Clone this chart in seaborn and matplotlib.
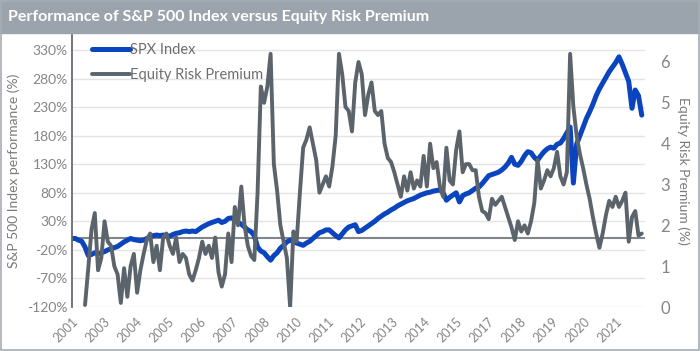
import numpy as np
import pandas as pd
import matplotlib
matplotlib.use("Agg")
import matplotlib.pyplot as plt
import seaborn as sns
from matplotlib.patches import Rectangle

# S&P 500 cumulative performance (%), one value per sample point
spx = [0, 0, -3, -5, -15, -30, -28, -25, -27, -25,
       -23, -20, -18, -16, -14, -10, -6, -3, 0, -2,
       -3, -4, -3, 0, 3, 5, 6, 5, 6, 5,
       4, 7, 9, 10, 12, 13, 12, 13, 12, 16,
       20, 23, 26, 28, 30, 32, 28, 30, 35, 36,
       33, 28, 25, 20, 15, 12, 5, -15, -22, -25,
       -32, -38, -30, -25, -17, -12, -6, -3, -5, -8,
       -10, -12, -8, -5, 0, 5, 10, 12, 15, 15,
       10, 5, 1, 8, 15, 20, 22, 24, 12, 14,
       18, 22, 26, 30, 35, 39, 43, 46, 50, 53,
       57, 60, 63, 66, 68, 70, 73, 76, 78, 80,
       81, 83, 84, 85, 80, 67, 72, 76, 80, 64,
       75, 78, 80, 84, 88, 90, 96, 103, 110, 112,
       114, 116, 120, 125, 132, 142, 130, 128, 135, 145,
       152, 150, 142, 137, 145, 152, 157, 160, 158, 165,
       167, 175, 185, 195, 97, 165, 180, 195, 210, 222,
       235, 250, 262, 272, 282, 292, 300, 308, 318, 305,
       290, 275, 228, 260, 250, 216]

# Equity risk premium (%), no data for the first few points
erp = [np.nan, np.nan, np.nan, np.nan, 0.05, 0.95, 1.9, 2.3, 0.9, 1.2,
       2.1, 1.6, 1.5, 1.0, 0.8, 0.1, 0.95, 0.25, 1.0, 1.3,
       0.35, 0.9, 1.3, 1.65, 1.8, 1.1, 1.5, 0.9, 1.7, 1.8,
       1.5, 1.3, 1.7, 1.1, 1.3, 1.2, 0.8, 0.65, 0.9, 1.2,
       1.6, 1.3, 1.5, 1.2, 1.7, 0.85, 0.5, 0.8, 1.8, 1.1,
       2.45, 2.0, 2.95, 2.0, 1.5, 1.25, 1.15, 2.8, 5.4, 5.0,
       5.4, 6.2, 3.5, 2.85, 2.0, 1.6, 1.2, 0.0, 1.85, 1.6,
       2.8, 3.9, 4.1, 4.4, 4.0, 3.6, 2.8, 3.0, 3.2, 2.95,
       3.45, 4.2, 6.2, 5.7, 4.9, 4.8, 4.3, 5.5, 6.0, 5.7,
       4.7, 5.2, 5.5, 4.8, 4.7, 4.8, 4.0, 3.65, 3.55, 3.3,
       3.0, 2.7, 3.2, 2.85, 3.3, 2.9, 3.1, 2.95, 3.7, 2.95,
       4.0, 3.4, 3.55, 2.95, 2.7, 3.9, 3.1, 3.0, 3.85, 4.3,
       3.3, 3.5, 3.5, 3.35, 3.35, 2.7, 2.35, 2.3, 2.15, 2.65,
       2.5, 2.6, 2.7, 2.45, 2.2, 1.95, 1.64, 2.1, 1.85, 2.0,
       1.8, 2.1, 2.55, 3.6, 2.9, 3.1, 3.35, 3.2, 3.4, 3.8,
       3.2, 3.0, 3.3, 6.2, 4.9, 4.2, 3.75, 3.4, 3.0, 2.65,
       2.2, 1.8, 1.45, 1.8, 2.25, 2.6, 2.45, 2.7, 2.45, 2.6,
       2.8, 1.6, 2.2, 2.35, 1.75, 1.8]

year_labels = ['2001', '2003', '2004', '2005', '2006', '2007', '2008', '2010', '2011',
               '2012', '2013', '2014', '2015', '2017', '2018', '2019', '2020', '2021']
label_every = 9.82   # category interval between year labels, in sample points

left_ticks = list(range(-120, 331, 50))
right_ticks = [0, 1, 2, 3, 4, 5, 6]

df = pd.DataFrame({'idx': np.arange(len(spx)), 'spx': spx, 'erp': erp})

sns.set_style('white')
plt.rcParams['font.family'] = ['Lato', 'DejaVu Sans']

blue = '#0A45BF'
grey = '#5B636B'
txt = '#858585'

fig = plt.figure(figsize=(7, 3.51), dpi=100)
fig.patches.append(Rectangle((0, 1 - 33 / 351), 1, 33 / 351, transform=fig.transFigure,
                             color='#9BA4AD', zorder=0))
fig.patches.append(Rectangle((0.002, 0.004), 0.996, 0.992, transform=fig.transFigure,
                             fill=False, edgecolor='#A6ADB4', lw=1.2, zorder=0))
fig.text(0.012, 1 - 17 / 351, 'Performance of S&P 500 Index versus Equity Risk Premium',
         color='white', fontsize=11.5, fontweight='bold', va='center', ha='left')

ax = fig.add_axes([72 / 700, 1 - 307 / 351, 573 / 700, 272 / 351])
ax2 = ax.twinx()

sns.lineplot(data=df, x='idx', y='spx', ax=ax, color=blue, lw=3.6, label='SPX Index', legend=False)
sns.lineplot(data=df, x='idx', y='erp', ax=ax2, color=grey, lw=2.8, label='Equity Risk Premium',
             legend=False)

top_left = 330 + 15 * 450 / 257
ax.set_ylim(-120, top_left)
ax2.set_ylim(0, 6 * 272 / 245)
ax.set_xlim(0, 176)

ax.set_yticks(left_ticks)
ax.set_yticklabels([f'{v}%' for v in left_ticks])
ax2.set_yticks(right_ticks)
ax.set_xticks(np.arange(len(year_labels)) * label_every)
ax.set_xticklabels(year_labels, rotation=45, ha='right', rotation_mode='anchor')

ax.grid(axis='y', color='#E4E4E4', lw=1)
ax.axhline(0, color='#7F868C', lw=1.5, zorder=1.5)

for a in (ax, ax2):
    for s in ('top', 'right', 'bottom'):
        a.spines[s].set_visible(False)
ax2.spines['left'].set_visible(False)
ax.spines['left'].set_color('#646B72')
ax.spines['left'].set_linewidth(1.3)

ax.tick_params(axis='y', length=0, labelsize=10, labelcolor=txt, pad=3)
ax.tick_params(axis='x', length=0, labelsize=9, labelcolor=txt, pad=6)
ax2.tick_params(axis='y', length=0, labelsize=12, labelcolor=txt, pad=11)

ax.set_xlabel('')
ax.set_ylabel('S&P 500 Index performance (%)', fontsize=10, color='#7A7A7A', labelpad=5)
ax2.set_ylabel('Equity Risk Premium (%)', fontsize=10, color='#7A7A7A', rotation=270, labelpad=14)

h1, l1 = ax.get_legend_handles_labels()
h2, l2 = ax2.get_legend_handles_labels()
leg = ax2.legend(h1 + h2, l1 + l2, loc='upper left', bbox_to_anchor=(0.012, 1.02), frameon=False,
                 fontsize=10.5, handlelength=2.6, handletextpad=0.0, labelspacing=0.8,
                 labelcolor='#6E6E6E')

fig.savefig('out.png', dpi=100)
